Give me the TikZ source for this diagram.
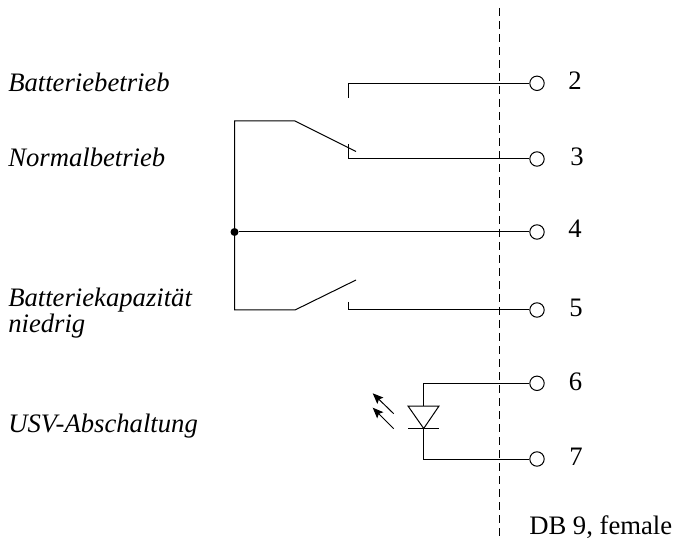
\documentclass[tikz,border=0pt]{standalone}
\usepackage{fontspec}
\setmainfont{Liberation Serif}
\usetikzlibrary{arrows.meta}
\tikzset{
  x=0.75pt,y=-0.75pt,
  wire/.style={draw=black,line width=0.75pt,line join=miter},
  pin/.style={circle,draw=black,line width=0.75pt,fill=white,minimum size=10.8pt,inner sep=0pt},
  lab/.style={anchor=base west,inner sep=0pt,font=\fontsize{20}{22}\selectfont\itshape},
  num/.style={anchor=base west,inner sep=0pt,font=\fontsize{20}{22}\selectfont},
  junction/.style={circle,fill=black,minimum size=6pt,inner sep=0pt},
  ray/.style={draw=black,line width=0.75pt,-{Stealth[length=8pt,width=6.5pt,inset=1.5pt]}}
}
\begin{document}
\begin{tikzpicture}
\useasboundingbox (0,0) rectangle (674,541);
\coordinate (sepT) at (499,8);
\coordinate (sepB) at (499,538);
\draw[line width=0.75pt,dash pattern=on 6pt off 3.75pt] (sepT) -- (sepB);
\node[pin] (p2) at (537,83.3) {};
\node[pin] (p3) at (537,159) {};
\node[pin] (p4) at (537,232) {};
\node[pin] (p5) at (537,310) {};
\node[pin] (p6) at (537,383.3) {};
\node[pin] (p7) at (537,459) {};
\node[num] (n2) at (568,90) {2};
\node[num] (n3) at (570,166) {3};
\node[num] (n4) at (568,238) {4};
\node[num] (n5) at (569,317) {5};
\node[num] (n6) at (568.5,390) {6};
\node[num] (n7) at (569,465) {7};
\node[lab] (l1) at (8,91.5) {Batteriebetrieb};
\node[lab] (l2) at (8,166.5) {Normalbetrieb};
\node[lab] (l3) at (8,306.5) {Batteriekapazität};
\node[lab] (l4) at (8,332.5) {niedrig};
\node[lab] (l5) at (8,432.5) {USV-Abschaltung};
\node[num] (l6) at (529,534.5) {DB 9, female};
\coordinate (c2) at (348,98);
\draw[wire] (c2) |- (p2);
\coordinate (c3) at (348,144);
\draw[wire] (c3) |- (p3);
\coordinate (c5) at (348,302);
\draw[wire] (c5) |- (p5);
\node[junction] (j) at (234.5,232) {};
\coordinate (s1) at (295,121);
\coordinate (s1e) at (356,151.5);
\coordinate (s2) at (295,310);
\coordinate (s2e) at (356,280);
\draw[wire] (s1e) -- (s1) -- (234.5,121) -- (j.center) -- (234.5,310) -- (s2) -- (s2e);
\draw[wire] (j) -- (p4);
\coordinate (ledT) at (423.7,406);
\coordinate (ledB) at (423.7,428.5);
\coordinate (ledL) at (408,406);
\coordinate (ledR) at (439,406);
\coordinate (barL) at (408,428.5);
\coordinate (barR) at (439,428.5);
\draw[wire] (p6) -| (ledT);
\draw[wire] (ledB) |- (p7);
\draw[wire] (ledL) -- (ledR) -- (ledB) -- cycle;
\draw[wire] (barL) -- (barR);
\coordinate (r1a) at (393.7,413.7);
\coordinate (r1b) at (372.7,393.3);
\coordinate (r2a) at (393.7,428.7);
\coordinate (r2b) at (372.7,407.7);
\draw[ray] (r1a) -- (r1b);
\draw[ray] (r2a) -- (r2b);
\end{tikzpicture}
\end{document}
